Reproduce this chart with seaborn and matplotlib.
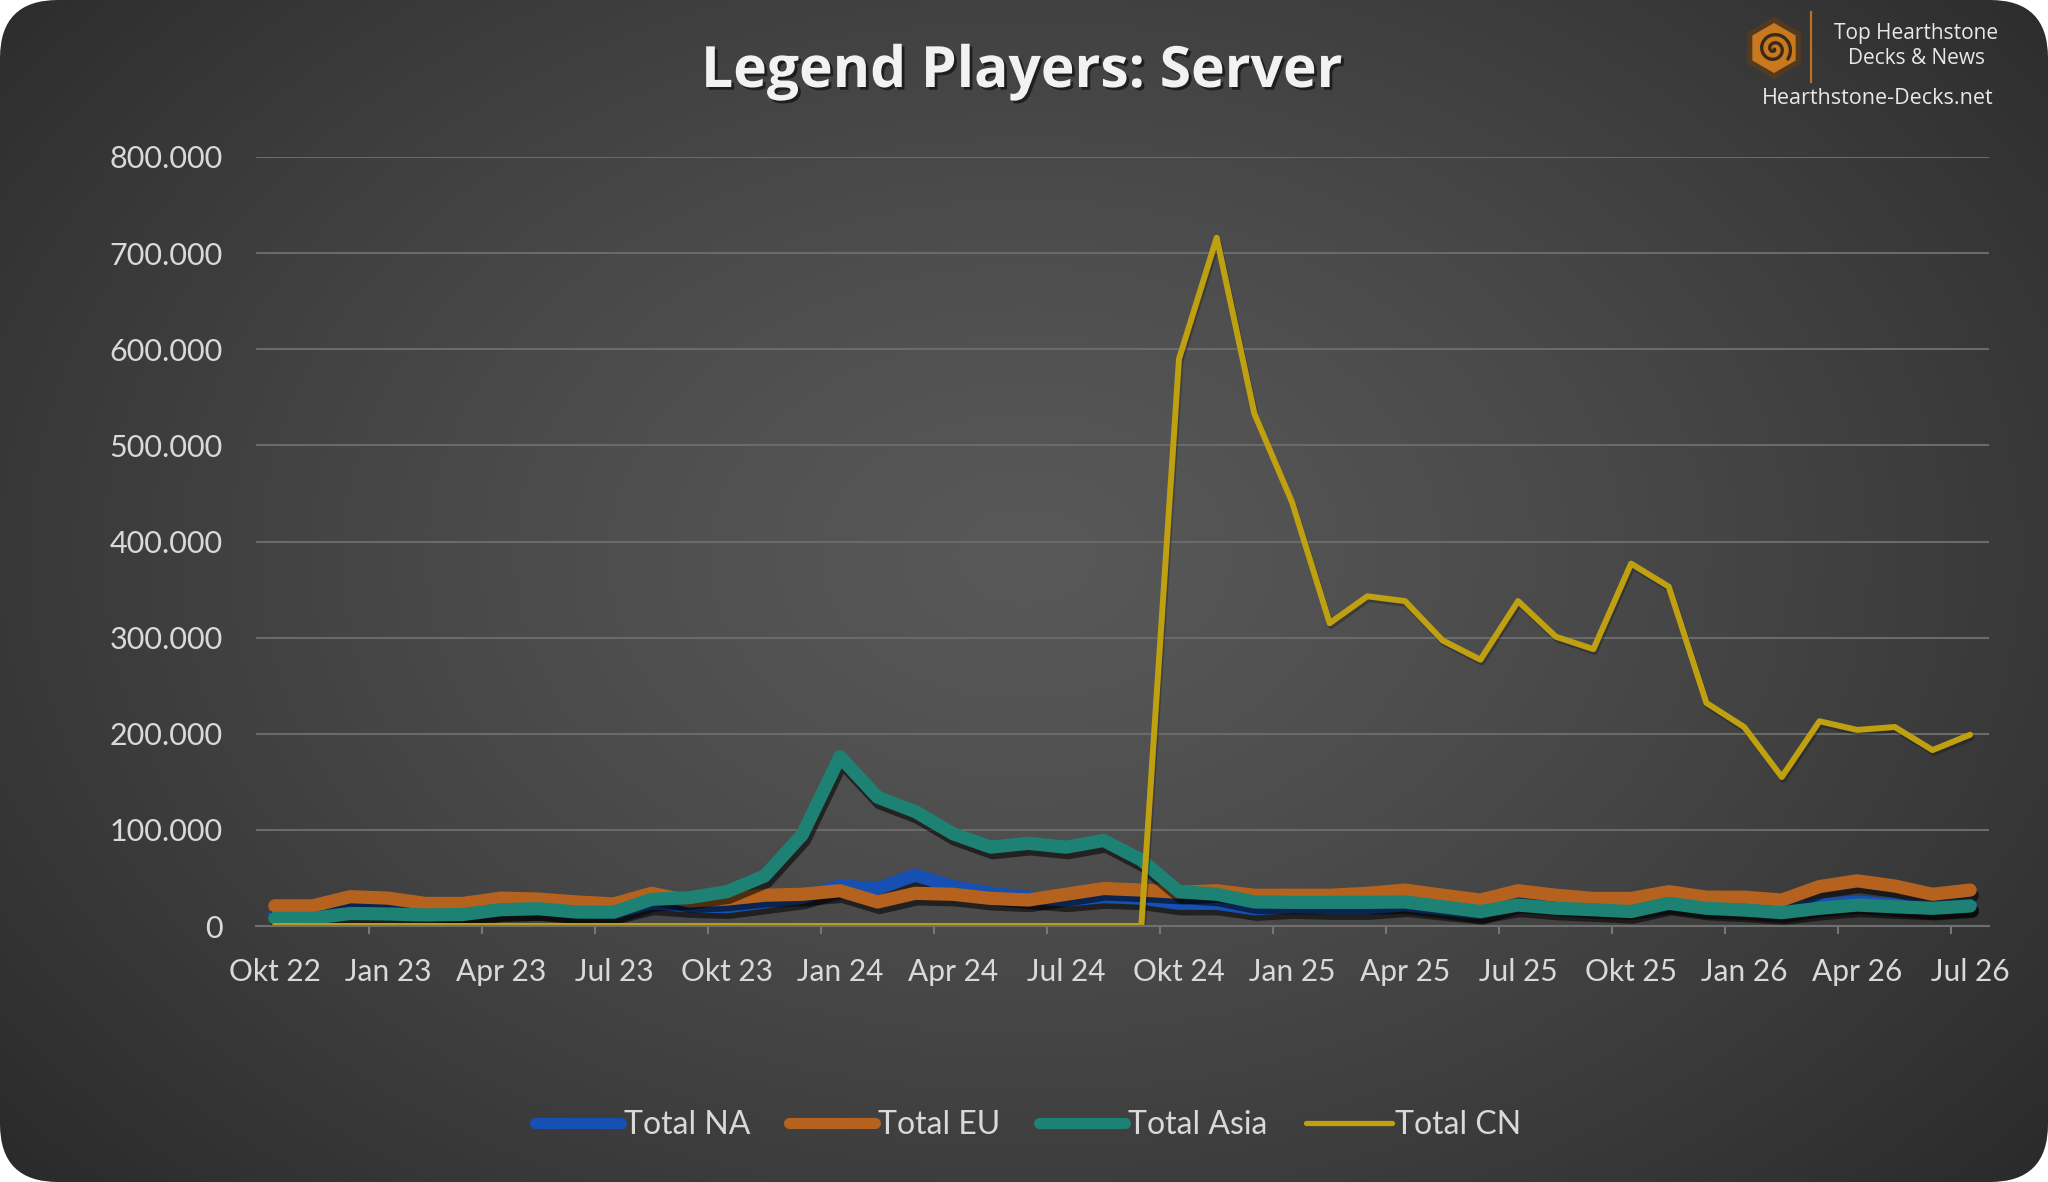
import numpy as np
import pandas as pd
import matplotlib
matplotlib.use("Agg")
import matplotlib.pyplot as plt
import matplotlib.patheffects as pe
from matplotlib.patches import FancyBboxPatch, RegularPolygon
from matplotlib.ticker import FuncFormatter, FixedLocator
from matplotlib.lines import Line2D
import seaborn as sns

# ---------------- data (values in players) ----------------
months = ["Okt 22", "Nov 22", "Dez 22",
          "Jan 23", "Feb 23", "Mär 23", "Apr 23", "Mai 23", "Jun 23",
          "Jul 23", "Aug 23", "Sep 23", "Okt 23", "Nov 23", "Dez 23",
          "Jan 24", "Feb 24", "Mär 24", "Apr 24", "Mai 24", "Jun 24",
          "Jul 24", "Aug 24", "Sep 24", "Okt 24", "Nov 24", "Dez 24",
          "Jan 25", "Feb 25", "Mär 25", "Apr 25", "Mai 25", "Jun 25",
          "Jul 25", "Aug 25", "Sep 25", "Okt 25", "Nov 25", "Dez 25",
          "Jan 26", "Feb 26", "Mär 26", "Apr 26", "Mai 26", "Jun 26",
          "Jul 26"]

total_na = [13000, 13000, 21000, 20000, 17000, 15000, 17000, 18000, 15000,
            14000, 24000, 21000, 20000, 25000, 30000, 41600, 39000, 53000,
            41000, 34000, 30000, 27000, 30500, 29000, 23600, 23600, 18000,
            20000, 19000, 19000, 22000, 18000, 14000, 26000, 23000, 20000,
            19000, 25000, 20000, 19000, 16000, 22000, 25000, 22000, 19000,
            22000]

total_eu = [21000, 21000, 30500, 29000, 23500, 23500, 29000, 28000, 25000,
            23000, 34000, 26000, 28000, 32000, 33000, 36700, 25000, 34000,
            33000, 28700, 27000, 33000, 39000, 37400, 35000, 36700, 32000,
            32000, 32000, 34000, 37400, 32000, 27000, 36700, 32000, 28700,
            28700, 35700, 30000, 30000, 27000, 41000, 47000, 41600, 33000,
            37400]

total_asia = [8000, 8000, 13000, 12500, 11500, 12000, 17000, 18000, 14500,
              14500, 27700, 29500, 35700, 52000, 95000, 176000, 134000, 119000,
              96000, 82000, 86000, 82000, 89000, 68600, 35700, 33000, 25000,
              24600, 24600, 24600, 25000, 20000, 15000, 21800, 18500, 16900,
              15000, 23600, 18400, 16600, 13900, 18400, 21800, 20000, 18400,
              20800]

total_cn = [0] * 24 + [590000, 716000, 533000, 441000, 315000, 343000, 338000,
                       297000, 277000, 338000, 301000, 288000, 377000, 353000,
                       232000, 207000, 155000, 213000, 204000, 207000, 183000,
                       199000]

series_names = ["Total NA", "Total EU", "Total Asia", "Total CN"]
series_values = [total_na, total_eu, total_asia, total_cn]
series_colors = ["#1550B2", "#B5621E", "#1D8174", "#BFA011"]
series_widths = [9.5, 9.5, 9.5, 4.3]

label_positions = list(range(0, len(months), 3))
x_labels = [months[i] for i in label_positions]
y_ticks = [0, 100000, 200000, 300000, 400000, 500000, 600000, 700000, 800000]

df = pd.DataFrame({"idx": np.arange(len(months))})
for name, vals in zip(series_names, series_values):
    df[name] = vals

# ---------------- figure ----------------
W, H = 2048, 1182
fig = plt.figure(figsize=(W / 100, H / 100), dpi=100, facecolor="white")

# background panel with radial gradient and rounded corners
bg = fig.add_axes([0, 0, 1, 1], zorder=0)
bg.set_xlim(0, W)
bg.set_ylim(H, 0)
bg.axis("off")
yy, xx = np.mgrid[0:H:2, 0:W:2]
r = np.sqrt(((xx - W * 0.5) / (W * 0.66)) ** 2 + ((yy - H * 0.47) / (H * 0.8)) ** 2)
r = np.clip(r, 0, 1) ** 1.3
c_in = np.array([0x58, 0x58, 0x58]) / 255
c_out = np.array([0x2a, 0x2a, 0x2a]) / 255
img = c_in[None, None, :] * (1 - r[..., None]) + c_out[None, None, :] * r[..., None]
im = bg.imshow(img, extent=[0, W, H, 0], aspect="auto", interpolation="bilinear")
clip = FancyBboxPatch((0, 0), W, H, boxstyle="round,pad=0,rounding_size=58",
                      transform=bg.transData, facecolor="none", edgecolor="none")
bg.add_patch(clip)
im.set_clip_path(clip)

# logo
hex_outer = RegularPolygon((1774, 48), numVertices=6, radius=31, orientation=0,
                           facecolor="#5a3c1c", edgecolor="none", alpha=0.8)
hex_inner = RegularPolygon((1774, 48), numVertices=6, radius=25, orientation=0,
                           facecolor="#C8781F", edgecolor="none")
bg.add_patch(hex_outer)
bg.add_patch(hex_inner)
th = np.linspace(0.3, 4.2 * np.pi, 200)
rad = 1.3 * th
bg.plot(1774 + rad * np.cos(th), 49 + rad * np.sin(th), color="#3b2a18", lw=2.4,
        solid_capstyle="round")
bg.plot([1811, 1811], [12, 82], color="#B8731E", lw=1.6)
logo_font = ["Open Sans", "DejaVu Sans"]
bg.text(1916, 34, "Top Hearthstone", ha="center", va="center", fontsize=15,
        color="#e8e8e8", family=logo_font)
bg.text(1916, 59, "Decks & News", ha="center", va="center", fontsize=15,
        color="#e8e8e8", family=logo_font)
bg.text(1878, 99, "Hearthstone-Decks.net", ha="center", va="center", fontsize=15.5,
        color="#e8e8e8", family=logo_font)

# title
fig.text(1022 / W, 1 - 72 / H, "Legend Players: Server", ha="center", va="center",
         fontsize=41, fontweight="bold", color="#f2f2f2",
         family=["Open Sans", "DejaVu Sans"],
         path_effects=[pe.withSimplePatchShadow(offset=(2, -2), shadow_rgbFace="black",
                                                alpha=0.55)])

# main axes
ax = fig.add_axes([256 / W, 1 - 926 / H, (1989 - 256) / W, (926 - 157) / H], zorder=2)
ax.set_facecolor("none")

for name, col, lw in zip(series_names, series_colors, series_widths):
    sns.lineplot(data=df, x="idx", y=name, ax=ax, color=col, linewidth=lw,
                 label=name, legend=False)
    ln = ax.lines[-1]
    ln.set_solid_capstyle("round")
    ln.set_solid_joinstyle("round")
    if lw > 5:
        shadow = pe.SimpleLineShadow(offset=(1.5, -4), shadow_color="black", alpha=0.55)
    else:
        shadow = pe.SimpleLineShadow(offset=(1, -2), shadow_color="black", alpha=0.25)
    ln.set_path_effects([shadow, pe.Normal()])

ax.set_xlim(-0.5, len(months) - 0.5)
ax.set_ylim(0, 800000)
ax.set_xlabel("")
ax.set_ylabel("")

tick_font = ["Lato", "DejaVu Sans"]
ax.xaxis.set_major_locator(FixedLocator(label_positions))
ax.set_xticklabels(x_labels)
ax.xaxis.set_minor_locator(FixedLocator([p + 2.5 for p in label_positions[:-1]]))
ax.set_yticks(y_ticks)
ax.yaxis.set_major_formatter(FuncFormatter(lambda v, p: f"{int(v):,}".replace(",", ".")))

ax.tick_params(axis="x", which="major", length=0, pad=23, labelsize=21.5, labelcolor="#d9d9d9")
ax.tick_params(axis="x", which="minor", length=6, width=1.5, color="#777777", direction="out")
ax.tick_params(axis="y", which="major", length=0, pad=24, labelsize=22, labelcolor="#d9d9d9")
for lab in ax.get_xticklabels() + ax.get_yticklabels():
    lab.set_family(tick_font)

ax.grid(axis="y", color="#6a6a6a", linewidth=1.5)
ax.grid(axis="x", visible=False)
ax.set_axisbelow(True)
for s in ["top", "right", "left"]:
    ax.spines[s].set_visible(False)
ax.spines["bottom"].set_color("#6f6f6f")
ax.spines["bottom"].set_linewidth(1.5)

# legend
handles = [Line2D([0], [0], color=c, lw=(8 if lw > 5 else 3.8), solid_capstyle="round")
           for c, lw in zip(series_colors, series_widths)]
leg = fig.legend(handles, series_names, loc="center", bbox_to_anchor=(1028 / W, 1 - 1125 / H),
                 ncol=4, frameon=False, handlelength=2.7, handletextpad=0.1,
                 columnspacing=1.2, labelcolor="#d9d9d9", prop={"family": tick_font, "size": 23})

fig.savefig("out.png", dpi=100, facecolor="white")
